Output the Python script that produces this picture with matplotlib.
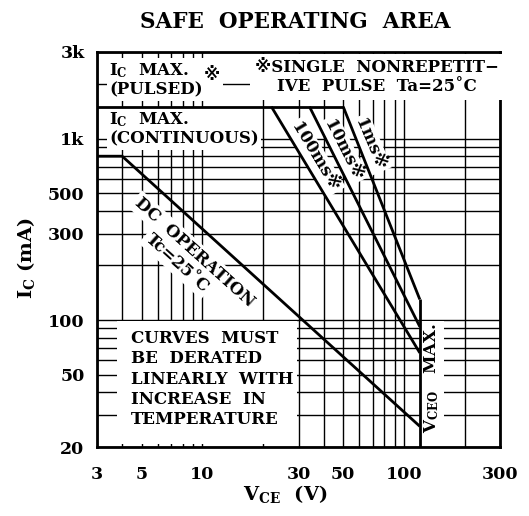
import matplotlib
matplotlib.use('Agg')
import matplotlib.pyplot as plt
import numpy as np

plt.rcParams['font.family'] = ['DejaVu Serif', 'DejaVu Sans', 'Noto Sans CJK JP']
plt.rcParams['font.weight'] = 'bold'

# axis ticks
x_ticks = [3, 5, 10, 30, 50, 100, 300]
x_tick_labels = ['3', '5', '10', '30', '50', '100', '300']
y_ticks = [20, 50, 100, 300, 500, 1000, 3000]
y_tick_labels = ['20', '50', '100', '300', '500', '1k', '3k']

# SOA limits (V, mA)
ic_pulsed = 1500
ic_cont = 800
vceo_max = 120
dc_v = [3, 4, 120]
dc_i = [800, 800, 26]

# single pulse curves: start on Ic(pulsed), end on Vceo line
pulse_names = ['100ms', '10ms', '1ms']
pulse_v = [[22, 120], [34, 120], [50, 120]]
pulse_i = [[1500, 66], [1500, 92], [1500, 130]]

W, H = 529, 516
fig = plt.figure(figsize=(W / 100, H / 100), dpi=100)
L, R, T, B = 97, 500, 52, 447
ax = fig.add_axes([L / W, 1 - B / H, (R - L) / W, (B - T) / H])
ax.set_xscale('log')
ax.set_yscale('log')
ax.set_xlim(3, 300)
ax.set_ylim(20, 3000)


def px(x, y):
    # pixel position in the picture -> axes fraction
    return ((x - L) / (R - L), (B - y) / (B - T))


# log grid, every 1..9 per decade
xminor = np.concatenate([np.arange(3, 10), np.arange(10, 100, 10), np.arange(100, 301, 100)])
yminor = np.concatenate([np.arange(20, 100, 10), np.arange(100, 1000, 100), np.arange(1000, 3001, 1000)])
ax.set_xticks(xminor, minor=True)
ax.set_yticks(yminor, minor=True)
ax.set_xticks(x_ticks, x_tick_labels)
ax.set_yticks(y_ticks, y_tick_labels)
ax.xaxis.set_minor_formatter(matplotlib.ticker.NullFormatter())
ax.yaxis.set_minor_formatter(matplotlib.ticker.NullFormatter())
ax.tick_params(which='both', length=0, labelsize=12.5)
ax.tick_params(axis='x', pad=14)
ax.tick_params(axis='y', pad=9)
ax.set_axisbelow(True)
ax.grid(which='both', color='black', linewidth=1.0)
for s in ax.spines.values():
    s.set_linewidth(2.0)

lw = 2.0
kw = dict(color='black', linewidth=lw, zorder=4, solid_capstyle='butt')
# Ic pulsed limit
ax.plot([3, pulse_v[2][0]], [ic_pulsed, ic_pulsed], **kw)
# DC operation
ax.plot(dc_v, dc_i, **kw)
# pulse curves
for v, i in zip(pulse_v, pulse_i):
    ax.plot(v, i, **kw)
# Vceo max
ax.plot([vceo_max, vceo_max], [pulse_i[2][1], 20], **kw)

box = dict(boxstyle='square,pad=0.15', fc='white', ec='none')
tk = dict(transform=ax.transAxes, zorder=3, fontsize=12)

ax.text(*px(109, 80), '$\\mathregular{I_C}$  MAX.\n(PULSED)', ha='left', va='center',
        linespacing=1.15, bbox=box, **tk)
ax.text(*px(212, 76), '※', ha='center', va='center', bbox=box, **tk)
ax.text(*px(377, 77), '※SINGLE  NONREPETIT\u2212\nIVE  PULSE  Ta=25˚C', ha='center',
        va='center', linespacing=1.15, bbox=dict(boxstyle='square,pad=0.3', fc='white', ec='none'), **tk)
ax.text(*px(109, 129), '$\\mathregular{I_C}$  MAX.\n(CONTINUOUS)', ha='left', va='center',
        linespacing=1.15, bbox=box, **tk)

# DC labels along the line
ax.text(*px(194, 252), 'DC  OPERATION', rotation=-42, ha='center', va='center',
        rotation_mode='anchor', bbox=box, **tk)
ax.text(*px(177, 263), 'Tc=25˚C', rotation=-42, ha='center', va='center',
        rotation_mode='anchor', bbox=box, **tk)

# pulse labels
ax.text(*px(315, 157), '100ms※', rotation=-59, ha='center', va='center',
        rotation_mode='anchor', bbox=box, **tk)
ax.text(*px(343, 150), '10ms※', rotation=-63, ha='center', va='center',
        rotation_mode='anchor', bbox=box, **tk)
ax.text(*px(370, 144), '1ms※', rotation=-67, ha='center', va='center',
        rotation_mode='anchor', bbox=box, **tk)

# Vceo label
ax.text(*px(432, 378), '$\\mathregular{V_{CEO}}$   MAX.', rotation=90, ha='center', va='center',
        rotation_mode='anchor', bbox=box, **tk)

# derating note
ax.add_patch(plt.Rectangle(px(117, 444), (297 - 117) / (R - L), (444 - 321) / (B - T),
                           transform=ax.transAxes, fc='white', ec='none', zorder=2.6))
ax.text(*px(131, 330), 'CURVES  MUST\nBE  DERATED\nLINEARLY  WITH\nINCREASE  IN\nTEMPERATURE',
        ha='left', va='top', linespacing=1.25, **tk)

fig.text(295 / W, 1 - 22 / H, 'SAFE  OPERATING  AREA', ha='center', va='center', fontsize=15.5)
fig.text(26 / W, 1 - 258 / H, '$\\mathregular{I_C}$ (mA)', rotation=90, ha='center', va='center', fontsize=14)
fig.text(285 / W, 1 - 494 / H, '$\\mathregular{V_{CE}}$  (V)', ha='center', va='center', fontsize=14)

fig.savefig('out.png', dpi=100)
